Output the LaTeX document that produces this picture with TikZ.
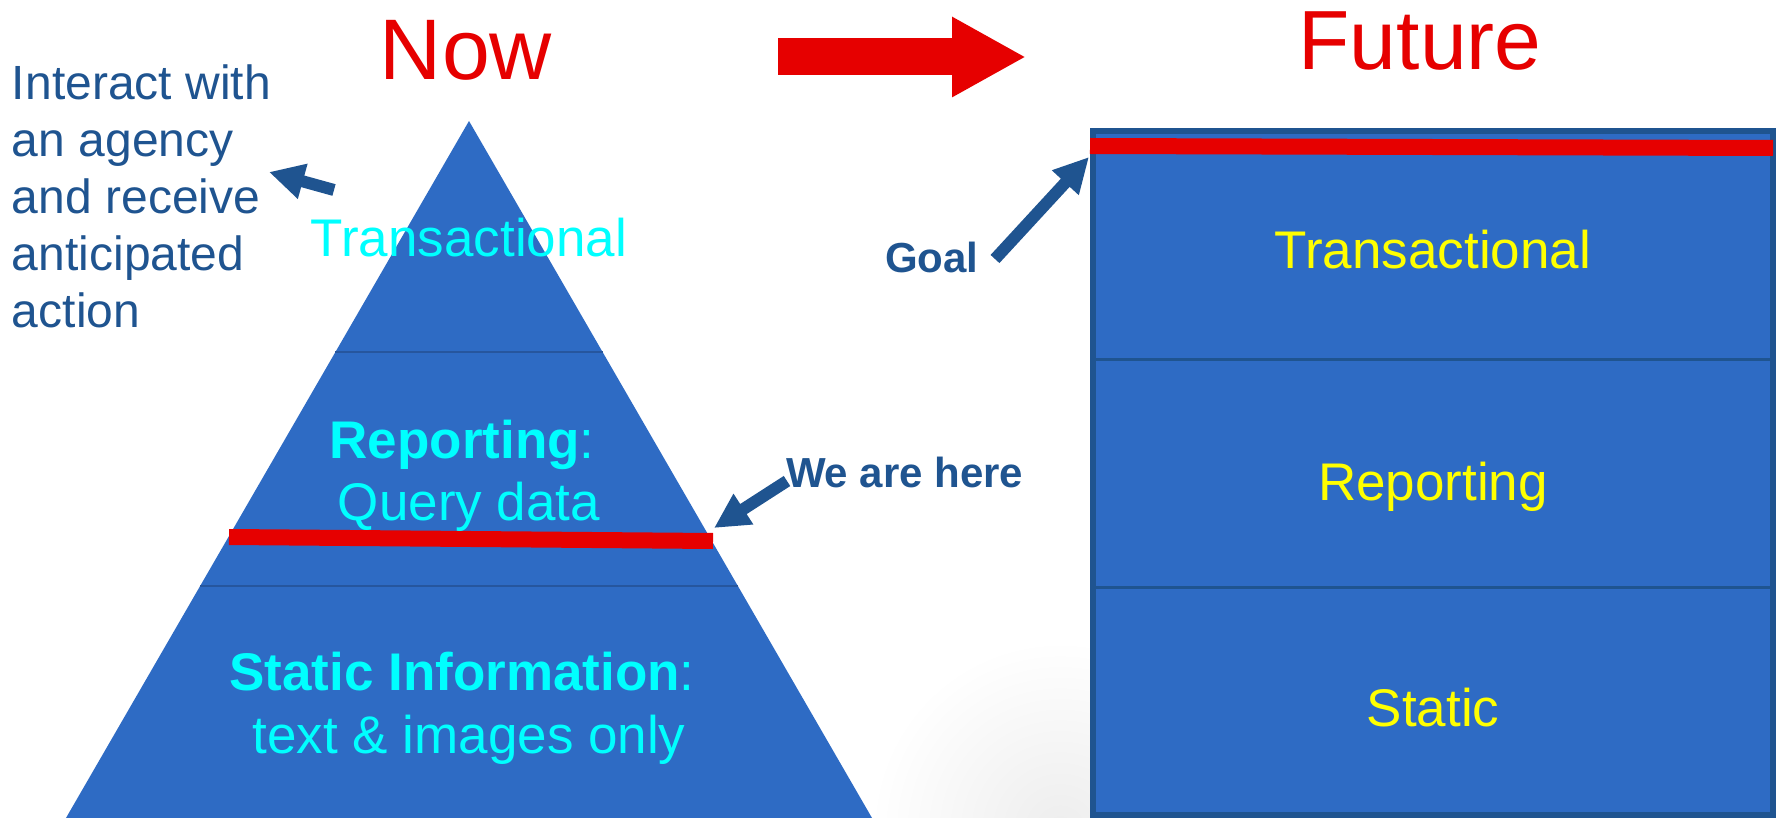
\documentclass[tikz,border=0pt]{standalone}
\usepackage{fontspec}
\setmainfont{Liberation Sans}
\usetikzlibrary{arrows.meta}
\definecolor{pyrblue}{RGB}{46,107,196}
\definecolor{navy}{RGB}{31,84,144}
\definecolor{hotred}{RGB}{230,0,0}
\definecolor{cyantext}{RGB}{0,255,255}
\definecolor{yellowtext}{RGB}{255,255,0}
\definecolor{divline}{RGB}{38,86,158}
\begin{document}
\begin{tikzpicture}[x=1pt,y=-1pt,
  lbl/.style={inner sep=0pt,outer sep=0pt,anchor=base},
  fs/.style={font=\fontsize{#1}{#1}\selectfont},
  blockarrow/.style={draw=navy,line width=12pt,-{Triangle[width=34pt,length=35pt]}},
  bigarrow/.style={draw=hotred,line width=37pt,-{Triangle[width=75pt,length=74pt]}},
  redband/.style={draw=hotred,line width=16pt},
  divider/.style={draw=divline,line width=2.5pt}]
\useasboundingbox (0,0) rectangle (1781,818);
\clip (0,0) rectangle (1781,818);
\fill[white] (0,0) rectangle (1781,818);
% faint background shading
\shade[inner color=black!7,outer color=white] (1060,830) circle (190);

% ---------- Now: pyramid ----------
\coordinate (apex) at (469,121);
\coordinate (bl) at (55,837);
\coordinate (br) at (883,837);
\fill[pyrblue] (apex) -- (br) -- (bl) -- cycle;
\draw[divider] (335.4,352) -- (602.6,352);
\draw[divider] (200,586) -- (738,586);
\coordinate (redL) at (229,537);
\coordinate (redR) at (713,541);
\draw[redband] (redL) -- (redR);

\node[lbl,fs=86,text=hotred] (now) at (466,80) {Now};
\node[lbl,fs=53,text=cyantext] (ptrans) at (469,257) {Transactional};
\node[lbl,fs=53,text=cyantext] (prep) at (462,458) {\textbf{Reporting}:};
\node[lbl,fs=53,text=cyantext] (pquery) at (469,520) {Query data};
\node[lbl,fs=53,text=cyantext] (pstat) at (462,690) {\textbf{Static Information}:};
\node[lbl,fs=53,text=cyantext] (ptext) at (469,753) {text \& images only};

% left note
\node[lbl,fs=48,text=navy,anchor=base west] (l1) at (12,100) {Interact with};
\node[lbl,fs=48,text=navy,anchor=base west] (l2) at (12,157) {an agency};
\node[lbl,fs=48,text=navy,anchor=base west] (l3) at (12,214) {and receive};
\node[lbl,fs=48,text=navy,anchor=base west] (l4) at (12,271) {anticipated};
\node[lbl,fs=48,text=navy,anchor=base west] (l5) at (12,328) {action};
\coordinate (iaTail) at (334,190);
\coordinate (iaTip) at (269,172);
\draw[blockarrow] (iaTail) -- (iaTip);

% We are here
\node[lbl,text=navy,anchor=base west,font=\fontsize{42}{42}\selectfont\bfseries] (here) at (786,487) {We are here};
\coordinate (hereTail) at (787,481);
\coordinate (hereTip) at (714,528);
\draw[blockarrow] (hereTail) -- (hereTip);

% big red arrow
\coordinate (raTail) at (778,57);
\coordinate (raTip) at (1026,57);
\draw[bigarrow] (raTail) -- (raTip);

% ---------- Future: box ----------
\node[lbl,fs=84,text=hotred] (future) at (1420,70) {Future};
\fill[pyrblue] (1090,128) rectangle (1776,818);
\draw[navy,line width=6pt] (1093,131) rectangle (1773,815);
\draw[navy,line width=3.5pt] (1093,359.5) -- (1773,359.5);
\draw[navy,line width=3.5pt] (1093,587.5) -- (1773,587.5);
\coordinate (goalL) at (1090,146);
\coordinate (goalR) at (1773,148);
\draw[redband] (goalL) -- (goalR);
\node[lbl,fs=53,text=yellowtext] (ftrans) at (1433,269) {Transactional};
\node[lbl,fs=53,text=yellowtext] (frep) at (1433,500) {Reporting};
\node[lbl,fs=53,text=yellowtext] (fstat) at (1433,726) {Static};

% Goal
\node[lbl,text=navy,anchor=base west,font=\fontsize{42}{42}\selectfont\bfseries] (goal) at (885,273) {Goal};
\coordinate (goalTail) at (995,259);
\coordinate (goalTip) at (1089,157);
\draw[blockarrow] (goalTail) -- (goalTip);
\end{tikzpicture}
\end{document}
